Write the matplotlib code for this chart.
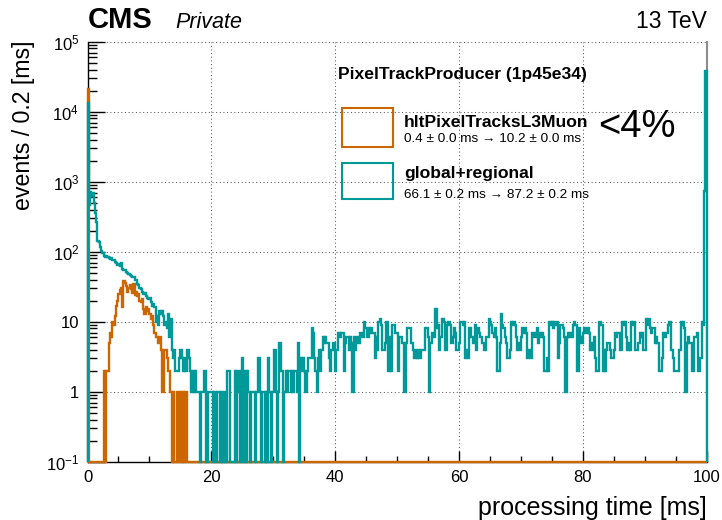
import numpy as np
import matplotlib
matplotlib.use("Agg")
import matplotlib.pyplot as plt
from matplotlib.patches import Rectangle
from matplotlib.ticker import FixedLocator, FixedFormatter, MultipleLocator, NullFormatter

plt.rcParams['font.family'] = ['Liberation Sans', 'DejaVu Sans']
plt.rcParams['mathtext.fontset'] = 'custom'
plt.rcParams['mathtext.rm'] = 'Liberation Sans'
plt.rcParams['mathtext.it'] = 'Liberation Sans:italic'
plt.rcParams['mathtext.bf'] = 'Liberation Sans:bold'

# ---- histogram data: 500 bins of 0.2 ms between 0 and 100 ms ----
bin_width = 0.2
n_bins = 500
x_min, x_max = 0.0, 100.0
y_min, y_max = 0.1, 1e5

# hltPixelTracksL3Muon: counts per bin (bins not listed are empty)
muon_first_bins = [21000] + [0] * 12 + [
    2, 0, 2, 2, 5, 7, 6, 10, 9, 12, 17, 20, 25, 28, 30, 16, 38, 36, 32, 27,
    30, 33, 29, 26, 34, 24, 27, 23, 25, 20, 19, 21, 15, 13, 16, 14, 15, 13, 11, 12,
    9, 7, 6, 6, 5, 6, 4, 1, 1, 4, 4, 3, 2, 2, 1, 0, 1, 0, 0, 1,
    1, 0, 1, 0, 1, 0, 1, 0]

# global+regional: counts per bin
regional_counts = [
    13500, 470, 710, 620, 680, 500, 360, 270, 140, 138,
    118, 104, 97, 88, 84, 86, 83, 80, 78, 81,
    76, 75, 72, 70, 64, 66, 62, 68, 57, 55,
    54, 52, 49, 48, 46, 45, 43, 44, 40, 39,
    35, 33, 30, 29, 27, 25, 26, 23, 22, 21,
    22, 19, 17, 18, 16, 10, 12, 9, 14, 13,
    14, 12, 9, 10, 8, 13, 6, 11, 4, 3,
    4, 2, 2, 2, 3, 4, 3, 2, 3, 2,
    4, 4, 3, 2, 1, 2, 1, 2, 1, 1,
    1, 0, 1, 1, 2, 2, 0, 1, 1, 1,
    1, 0, 1, 1, 0, 1, 1, 0, 1, 0,
    1, 0, 0, 2, 2, 0, 0, 0, 0, 2,
    0, 2, 1, 0, 2, 3, 0, 2, 0, 2,
    1, 0, 1, 1, 1, 0, 1, 1, 3, 1,
    0, 1, 1, 0, 1, 0, 3, 1, 0, 1,
    1, 4, 1, 0, 1, 5, 2, 2, 0, 1,
    2, 1, 2, 2, 1, 2, 1, 2, 2, 1,
    5, 0, 3, 2, 3, 2, 1, 2, 3, 3,
    3, 8, 7, 3, 2, 1, 3, 4, 2, 4,
    6, 5, 6, 5, 5, 3, 2, 4, 5, 5,
    2, 4, 7, 7, 6, 7, 7, 2, 5, 6,
    6, 4, 6, 5, 1, 6, 4, 5, 6, 5,
    7, 7, 6, 10, 8, 8, 6, 8, 7, 8,
    7, 7, 3, 6, 4, 10, 11, 9, 4, 4,
    5, 10, 10, 2, 6, 2, 9, 9, 7, 7,
    7, 2, 6, 6, 5, 5, 1, 5, 8, 8,
    8, 5, 5, 4, 3, 4, 3, 4, 3, 4,
    4, 4, 4, 8, 8, 6, 1, 5, 7, 7,
    6, 15, 8, 9, 4, 6, 11, 11, 10, 4,
    9, 10, 10, 9, 5, 6, 8, 7, 4, 4,
    5, 10, 10, 9, 10, 3, 4, 3, 8, 8,
    6, 5, 5, 9, 4, 8, 7, 6, 6, 5,
    4, 4, 6, 6, 11, 10, 9, 7, 6, 8,
    6, 2, 2, 5, 13, 9, 8, 6, 5, 3,
    3, 4, 10, 9, 10, 9, 6, 4, 5, 4,
    6, 8, 7, 8, 7, 3, 3, 4, 3, 7,
    7, 6, 7, 8, 5, 7, 6, 7, 6, 2,
    2, 3, 2, 10, 9, 10, 8, 10, 9, 10,
    3, 5, 9, 9, 8, 6, 1, 6, 7, 6,
    7, 6, 9, 10, 9, 2, 2, 8, 6, 5,
    7, 8, 8, 7, 8, 7, 4, 5, 4, 6,
    3, 2, 2, 10, 10, 9, 2, 4, 2, 4,
    5, 5, 4, 3, 3, 4, 7, 6, 7, 7,
    4, 4, 10, 9, 10, 6, 4, 5, 4, 10,
    9, 10, 4, 4, 4, 5, 7, 6, 7, 4,
    4, 11, 9, 11, 8, 7, 8, 8, 5, 6,
    5, 5, 2, 2, 3, 7, 6, 7, 7, 9,
    10, 4, 4, 3, 2, 2, 2, 2, 4, 10,
    9, 10, 8, 1, 5, 6, 5, 5, 2, 2,
    6, 6, 7, 2, 2, 3, 10, 9, 740, 38000]

muon_counts = np.zeros(n_bins)
muon_counts[:len(muon_first_bins)] = muon_first_bins
regional_counts = np.asarray(regional_counts, dtype=float)

edges = np.linspace(x_min, x_max, n_bins + 1)

muon_color = '#cc6600'
regional_color = '#009999'

# legend texts
legend_title = 'PixelTrackProducer (1p45e34)'
muon_label = 'hltPixelTracksL3Muon'
muon_info = '0.4 \u00b1 0.0 ms \u2192 10.2 \u00b1 0.0 ms'
regional_label = 'global+regional'
regional_info = '66.1 \u00b1 0.2 ms \u2192 87.2 \u00b1 0.2 ms'
fraction_text = '<4%'

y_ticks = [1e-1, 1, 10, 1e2, 1e3, 1e4, 1e5]
y_ticklabels = [r'$10^{-1}$', '1', '10', r'$10^{2}$', r'$10^{3}$', r'$10^{4}$', r'$10^{5}$']

W, H = 722, 520
fig = plt.figure(figsize=(W / 100, H / 100), dpi=100)
ax = fig.add_axes([87.5 / W, 1 - 461.7 / H, (706.5 - 87.5) / W, (461.7 - 41.7) / H])
ax.set_yscale('log')
ax.set_xlim(x_min, x_max)
ax.set_ylim(y_min, y_max)


def draw_hist(counts, color):
    # empty bins sit on the bottom edge of the frame, as in ROOT
    shown = np.where(counts > 0, counts, y_min)
    ax.stairs(shown, edges, baseline=y_min, color=color, lw=1.7,
              clip_on=False, zorder=4)


draw_hist(muon_counts, muon_color)
draw_hist(regional_counts, regional_color)

# grid and axes
ax.set_axisbelow(True)
ax.grid(True, which='major', color='0.35', lw=0.75, linestyle=(0, (1, 2.5)))
ax.xaxis.set_major_locator(MultipleLocator(20))
ax.xaxis.set_minor_locator(MultipleLocator(5))
ax.yaxis.set_major_locator(FixedLocator(y_ticks))
ax.yaxis.set_major_formatter(FixedFormatter(y_ticklabels))
minor = [m * 10.0 ** e for e in range(-1, 5) for m in range(2, 10)]
ax.yaxis.set_minor_locator(FixedLocator(minor))
ax.yaxis.set_minor_formatter(NullFormatter())

ax.tick_params(axis='both', which='both', direction='in', color='black', width=1.0)
ax.tick_params(axis='y', which='major', length=12, pad=6, labelsize=12)
ax.tick_params(axis='y', which='minor', length=6.3)
ax.tick_params(axis='x', which='major', length=8, pad=6, labelsize=12)
ax.tick_params(axis='x', which='minor', length=4.5)

for side in ('left', 'bottom'):
    ax.spines[side].set_linewidth(1.0)
ax.spines['top'].set_visible(False)
ax.spines['right'].set_color('0.55')
ax.spines['right'].set_linewidth(1.5)

ax.set_xlabel('processing time [ms]', fontsize=18, ha='right', x=1.0)
ax.xaxis.set_label_coords(1.0, -0.082)
fig.text(24 / W, 1 - 40 / H, 'events / 0.2 [ms]', rotation=90, fontsize=16.7,
         ha='center', va='top')

# header
fig.text(88 / W, 1 - 28 / H, 'CMS', fontsize=21, fontweight='bold', va='baseline')
fig.text(175 / W, 1 - 28 / H, 'Private', fontsize=15.5, style='italic', va='baseline')
fig.text(707 / W, 1 - 28 / H, '13 TeV', fontsize=16.5, ha='right', va='baseline')

# legend
fig.text(338 / W, 1 - 79 / H, legend_title, fontsize=12.6, fontweight='bold', va='baseline')
for (top, bottom, color, label, info, y_lab, y_info) in [
        (108.3, 147.3, muon_color, muon_label, muon_info, 127, 142),
        (162.7, 199.3, regional_color, regional_label, regional_info, 177.7, 197.7)]:
    fig.patches.append(Rectangle((342 / W, 1 - bottom / H), 51 / W, (bottom - top) / H,
                                 transform=fig.transFigure, fill=False,
                                 edgecolor=color, lw=1.5))
    fig.text(404 / W, 1 - y_lab / H, label, fontsize=12.6, fontweight='bold', va='baseline')
    fig.text(404 / W, 1 - y_info / H, info, fontsize=9.7, va='baseline')
fig.text(598 / W, 1 - 137 / H, fraction_text, fontsize=27.5, va='baseline')

fig.savefig('out.png', dpi=100)
